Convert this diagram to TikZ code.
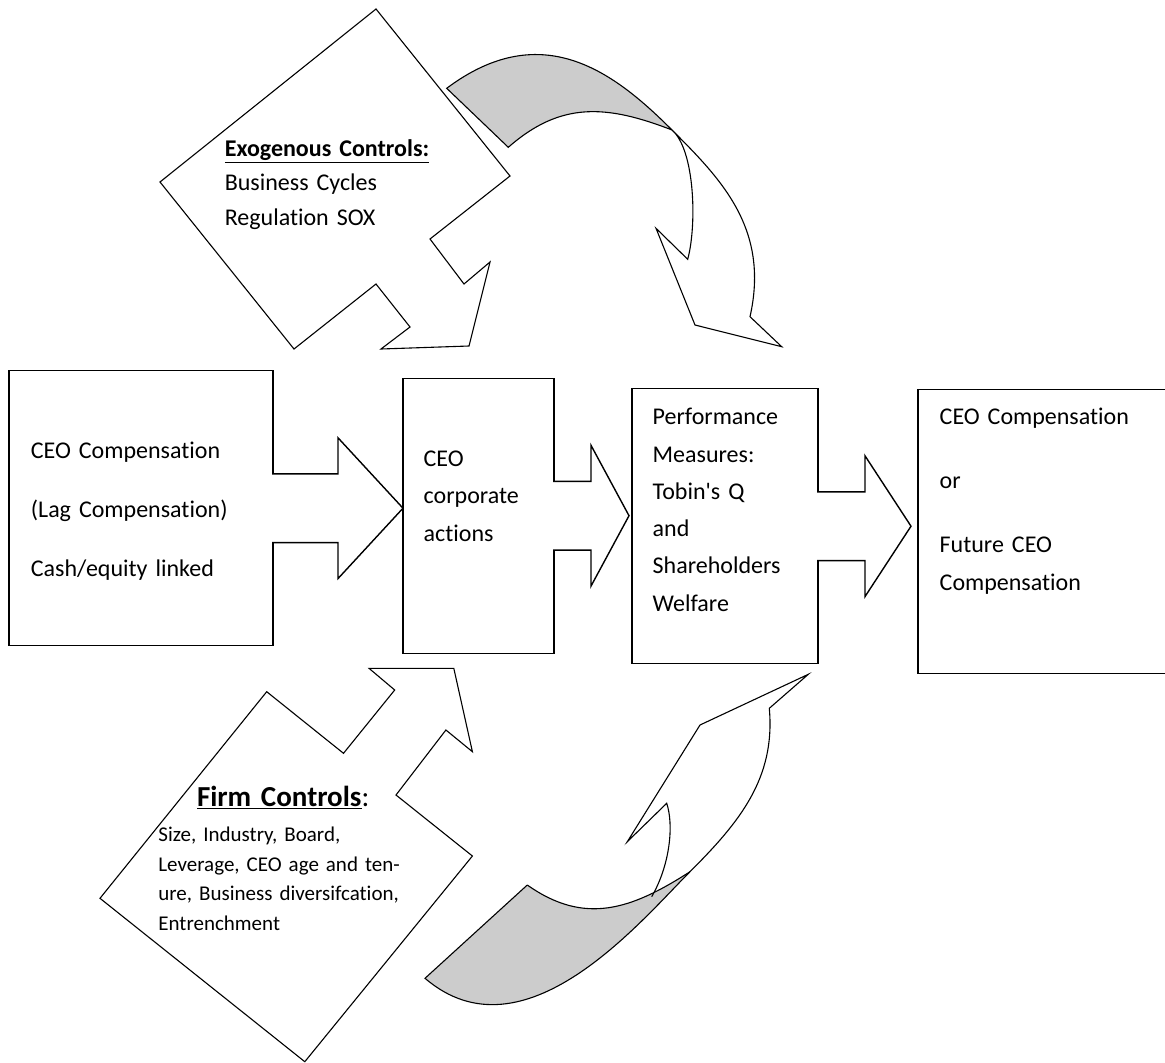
\documentclass[tikz,border=0pt]{standalone}
\usepackage{fontspec}
\setmainfont{Carlito}[Ligatures={TeX,NoCommon}]
\usetikzlibrary{positioning, calc}

\begin{document}
\begin{tikzpicture}[x=1pt, y=-1pt]

        % Define styles
        \tikzstyle{box} = [rectangle, draw, line width=1.4pt, outer sep=0pt, minimum height=275pt]
        \tikzstyle{txt} = [anchor=base west, inner sep=0pt, text width=160pt, font=\fontsize{24}{37.3}\selectfont]
        \tikzstyle{outline} = [draw, line width=1.1pt, fill=white]
        \tikzstyle{curve} = [draw, line width=1.1pt]
        \tikzstyle{band} = [fill=gray!40]
        \tikzstyle{barrow} = [draw, line width=1.4pt, fill=white]

        \useasboundingbox (0,0) rectangle (1165,1063);

        % Controls
        \path [outline] (376,9) -- (510,176) -- (430,239) -- (464,284) -- (490,262) -- (469,346)
            -- (381,349) -- (410,327) -- (376,284) -- (294,349) -- (160,182) -- cycle;
        \path [outline] (266.7,691.7) -- (343.5,753.3) -- (394.7,690) -- (369,668.3) -- (453.8,668.3)
            -- (472.4,751.7) -- (445.9,730) -- (396,795) -- (472.4,856) -- (304.8,1061.7) -- (100,898.3) -- cycle;

        % Curved arrow on top
        \fill [band] (446.7,88.3) .. controls (542.7,16.3) and (615.4,73.4) .. (672,130)
            .. controls (606.9,104.8) and (560.8,101.1) .. (508.3,147.3) -- cycle;
        \path [curve] (446.7,88.3) .. controls (542.7,16.3) and (615.4,73.4) .. (672,130)
            .. controls (721.5,179.5) and (769.8,228.9) .. (750,316.7)
            -- (781.7,346.7) -- (695,325) -- (656,228.3) -- (687.7,259.3)
            .. controls (697,225) and (695,150) .. (672,130)
            .. controls (606.9,104.8) and (560.8,101.1) .. (508.3,147.3) -- cycle;

        % Curved arrow at the bottom
        \fill [band] (527.3,885) -- (425,978.3) .. controls (523.8,1062.8) and (640.5,921.2) .. (690,871.7)
            .. controls (631.2,909.5) and (584.7,925.6) .. (527.3,885) -- cycle;
        \path [curve] (527.3,885) .. controls (584.7,925.6) and (631.2,909.5) .. (690,871.7);
        \path [curve] (527.3,885) -- (425,978.3) .. controls (523.8,1062.8) and (640.5,921.2) .. (690,871.7)
            .. controls (739.5,822.2) and (775.6,778.3) .. (769.3,708.3)
            -- (808.3,674.3) -- (700,725) -- (627.3,841.7) -- (666.7,803.3)
            .. controls (674,825) and (670,865) .. (651.7,896.7);

        % Place nodes
        \node [box, minimum width=264pt] (cmp) at (141,508.2) {};
        \node [box, minimum width=151pt, right=130pt of cmp, yshift=-7.5pt] (act) {};
        \node [box, minimum width=186pt, right=78pt of act, yshift=-10.5pt] (perf) {};
        \node [box, minimum width=263pt, minimum height=284pt, right=100pt of perf, yshift=-5pt] (fut) {};

        % Draw edges
        \path [barrow] (cmp.east) ++(-1,-34.4) -- ++(66,0) -- ++(0,-36) -- ++(65,70.4) -- ++(-65,70.4) -- ++(0,-36) -- ++(-66,0);
        \path [barrow] (act.east) ++(-1,-34.4) -- ++(38,0) -- ++(0,-36) -- ++(38,70.4) -- ++(-38,70.4) -- ++(0,-36) -- ++(-38,0);
        \path [barrow] (perf.east) ++(-1,-34.4) -- ++(48,0) -- ++(0,-36) -- ++(46,70.4) -- ++(-46,70.4) -- ++(0,-36) -- ++(-48,0);

        % Texts
        \node [txt, text width=240pt] (cmptext) at ($(cmp.north west)+(21.7,87.6)$) {CEO Compensation\\[22pt](Lag Compensation)\\[22pt]Cash/equity linked};
        \node [txt] (acttext) at ($(act.north west)+(20.5,88.4)$) {CEO\\corporate\\actions};
        \node [txt] (perftext) at ($(perf.north west)+(20.5,36)$) {Performance\\Measures:\\Tobin\textquotesingle s Q\\and\\Shareholders\\Welfare};
        \node [txt, text width=230pt] (futtext) at ($(fut.north west)+(21.5,35)$) {CEO Compensation\\[27pt]or\\[27pt]Future CEO\\Compensation};
        \node [txt, text width=220pt, font=\fontsize{24}{34.2}\selectfont] (exotext) at (224.6,156.7) {\underline{\textbf{Exogenous Controls:}}\\Business Cycles\\Regulation SOX};
        \node [txt, text width=220pt, font=\fontsize{29}{35}\selectfont] (firmhead) at (196.8,806.7) {\underline{\textbf{Firm Controls}}:};
        \node [txt, text width=280pt, font=\fontsize{21}{29.5}\selectfont] (firmtext) at (158.2,841.7) {Size, Industry, Board,\\Leverage, CEO age and ten-\\ure, Business diversifcation,\\Entrenchment};

\end{tikzpicture}
\end{document}
